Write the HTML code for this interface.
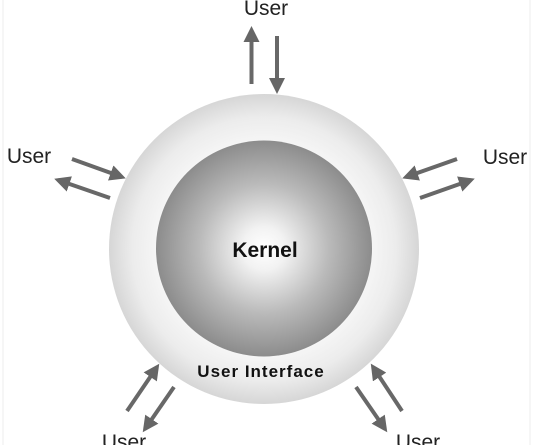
<!DOCTYPE html>
<html><head><style>body{margin:0;background:#fff}svg{display:block}</style></head><body>
<svg width="533" height="445" viewBox="0 0 533 445" xmlns="http://www.w3.org/2000/svg">
<defs>
<radialGradient id="o" cx="0.5" cy="0.5" r="0.5"><stop offset="0.65" stop-color="#f8f8f8"/><stop offset="0.85" stop-color="#ececec"/><stop offset="1" stop-color="#d6d6d6"/></radialGradient>
<radialGradient id="k" cx="0.5" cy="0.5" r="0.5"><stop offset="0" stop-color="#ffffff"/><stop offset="0.2" stop-color="#f2f2f2"/><stop offset="0.6" stop-color="#bababa"/><stop offset="1" stop-color="#8c8c8c"/></radialGradient>
<marker id="a" markerWidth="4" markerHeight="4" refX="3" refY="2" orient="auto" markerUnits="strokeWidth"><path d="M0,0 L4,2 L0,4 Z" fill="#666"/></marker>
</defs>
<rect width="533" height="445" fill="#fff"/>
<line x1="3" y1="0" x2="3" y2="445" stroke="#eee"/>
<line x1="530" y1="0" x2="530" y2="445" stroke="#eee"/>
<circle cx="264" cy="249" r="155" fill="url(#o)"/>
<circle cx="264" cy="248.5" r="108" fill="url(#k)"/>
<g font-family="Liberation Sans, sans-serif" text-anchor="middle">
<text x="265" y="257" font-size="21" font-weight="bold" fill="#111">Kernel</text>
<text x="261" y="377" font-size="17" font-weight="bold" fill="#111" letter-spacing="1">User Interface</text>
<text x="266" y="15" font-size="21" fill="#222">User</text>
<text x="29" y="163" font-size="21" fill="#222">User</text>
<text x="505" y="164" font-size="21" fill="#222">User</text>
<text x="124" y="449" font-size="21" fill="#222">User</text>
<text x="418" y="449" font-size="21" fill="#222">User</text>
</g>
<g stroke="#686868" stroke-width="4" fill="none" marker-end="url(#a)">
<line x1="251.5" y1="84" x2="251.5" y2="30"/>
<line x1="277" y1="36" x2="277" y2="90"/>
<line x1="72" y1="159" x2="122" y2="177"/>
<line x1="110" y1="198" x2="58" y2="180"/>
<line x1="457" y1="159" x2="406" y2="177"/>
<line x1="420" y1="198" x2="471" y2="180"/>
<line x1="127" y1="411" x2="157" y2="367"/>
<line x1="174" y1="387" x2="145" y2="429"/>
<line x1="402" y1="411" x2="373" y2="367"/>
<line x1="356" y1="387" x2="385" y2="429"/>
</g>
</svg>
</body></html>
